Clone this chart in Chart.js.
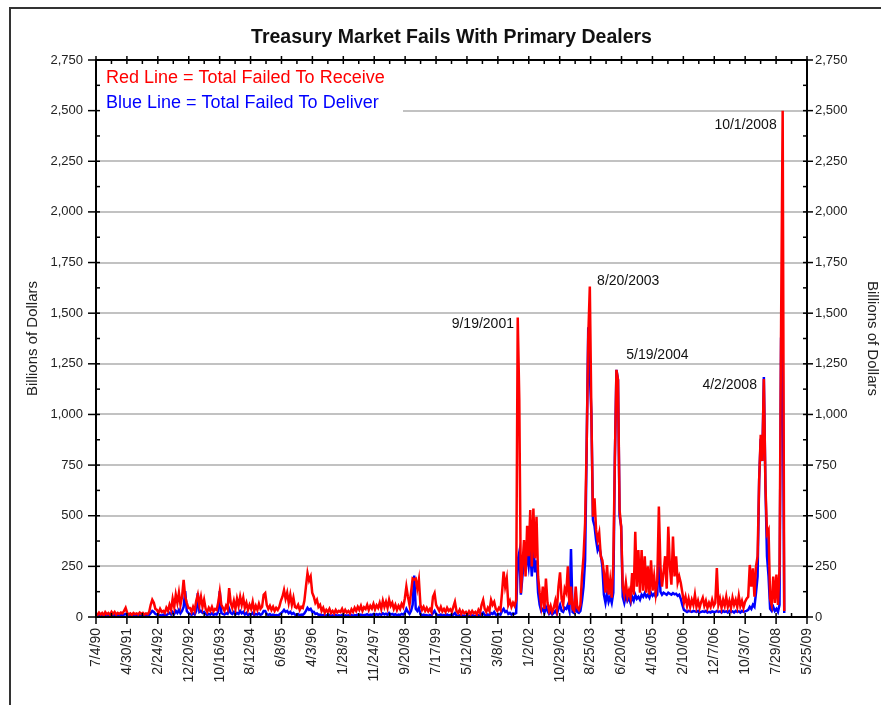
<!DOCTYPE html>
<html>
<head>
<meta charset="utf-8">
<title>Treasury Market Fails With Primary Dealers</title>
<script src="https://cdn.jsdelivr.net/npm/chart.js@4.4.1/dist/chart.umd.min.js"></script>
<style>
  html, body { margin: 0; padding: 0; background: #fff; }
</style>
</head>
<body>
<canvas id="fails" width="881" height="705"></canvas>
<script>
const FONT = '"Liberation Sans", Arial, sans-serif';

// x axis runs in days from 7/4/90, one label every 300 days
const tickLabels = ['7/4/90', '4/30/91', '2/24/92', '12/20/92', '10/16/93', '8/12/94', '6/8/95', '4/3/96',
  '1/28/97', '11/24/97', '9/20/98', '7/17/99', '5/12/00', '3/8/01', '1/2/02', '10/29/02', '8/25/03',
  '6/20/04', '4/16/05', '2/10/06', '12/7/06', '10/3/07', '7/29/08', '5/25/09'];

// two readings a month, starting July 1990 (one row per year)
const seriesStart = 1990;
const firstSlot = 12;
const slotsPerYear = 24;

// billions of dollars
const failedToReceive = [
  18, 10, 22, 12, 20, 8, 24, 14, 20, 10, 25, 15,
  25, 12, 20, 15, 22, 18, 30, 45, 20, 12, 18, 10, 20, 14, 18, 12, 22, 15, 20, 12, 18, 14, 25, 60,
  85, 70, 40, 35, 20, 40, 25, 30, 20, 45, 30, 60, 35, 90, 50, 110, 70, 120, 60, 100, 183, 100, 70, 45,
  45, 25, 50, 30, 80, 110, 60, 100, 50, 85, 40, 25, 45, 30, 50, 28, 40, 35, 70, 125, 60, 45, 30, 55,
  40, 143, 70, 45, 80, 40, 90, 55, 100, 60, 95, 45, 70, 35, 60, 40, 75, 30, 55, 35, 65, 40, 50, 110,
  118, 60, 40, 55, 35, 50, 30, 45, 35, 50, 80, 100, 133, 90, 120, 70, 110, 60, 95, 50, 45, 60, 35, 50,
  45, 80, 150, 217, 180, 200, 120, 100, 70, 85, 50, 60, 30, 45, 20, 35, 25, 40, 20, 30, 18, 35, 22, 30,
  25, 40, 20, 35, 22, 30, 18, 38, 25, 45, 30, 50, 35, 55, 30, 48, 40, 60, 35, 55, 42, 65, 38, 58,
  45, 70, 40, 80, 50, 75, 45, 85, 55, 70, 40, 60, 35, 55, 40, 65, 50, 90, 150, 100, 60, 120, 190, 185,
  190, 140, 185, 60, 35, 50, 30, 45, 28, 40, 25, 100, 118, 60, 45, 30, 50, 28, 40, 25, 45, 30, 38, 25,
  50, 75, 30, 20, 35, 15, 30, 18, 25, 12, 28, 15, 30, 18, 25, 12, 35, 20, 60, 84, 40, 25, 45, 30,
  84, 60, 75, 40, 30, 45, 35, 120, 224, 150, 190, 60, 80, 50, 70, 55, 85, 1479, 1072, 118, 250, 380, 200, 450,
  300, 528, 250, 536, 290, 495, 200, 120, 60, 150, 40, 190, 70, 30, 55, 25, 45, 80, 35, 150, 220, 90, 60, 140,
  120, 250, 60, 150, 40, 30, 150, 45, 35, 60, 200, 300, 465, 850, 1380, 1632, 1000, 495, 586, 430, 380, 415, 300, 280,
  220, 120, 257, 110, 180, 95, 260, 785, 1220, 1171, 528, 446, 150, 110, 170, 100, 130, 95, 217, 110, 421, 150, 330, 120,
  330, 130, 300, 120, 250, 110, 280, 130, 200, 115, 180, 545, 250, 150, 220, 300, 140, 446, 250, 160, 397, 200, 300, 170,
  200, 168, 120, 70, 100, 55, 90, 50, 85, 60, 110, 50, 80, 45, 75, 95, 55, 80, 45, 70, 50, 85, 55, 70,
  242, 60, 90, 45, 85, 55, 100, 50, 80, 45, 95, 60, 85, 50, 105, 55, 80, 45, 75, 90, 100, 257, 150, 240,
  100, 250, 300, 675, 900, 770, 1175, 650, 412, 430, 90, 60, 200, 70, 210, 60, 240, 1450, 2500, 30
];

const failedToDeliver = [
  8, 5, 10, 6, 9, 5, 10, 7, 8, 5, 10, 6,
  10, 6, 9, 7, 10, 8, 12, 15, 9, 6, 8, 5, 9, 6, 8, 5, 10, 7, 9, 6, 8, 6, 10, 20,
  30, 25, 15, 12, 8, 10, 7, 12, 10, 9, 15, 20, 12, 25, 15, 30, 20, 35, 18, 30, 50, 128, 30, 20,
  15, 10, 18, 12, 30, 118, 25, 30, 20, 25, 15, 10, 15, 12, 18, 10, 15, 12, 25, 128, 20, 15, 12, 18,
  15, 40, 20, 15, 25, 12, 20, 15, 30, 18, 25, 12, 20, 10, 15, 12, 20, 10, 15, 12, 18, 10, 15, 30,
  30, 15, 10, 15, 8, 12, 8, 10, 8, 12, 18, 25, 35, 25, 30, 18, 25, 15, 20, 12, 10, 15, 8, 12,
  10, 18, 30, 45, 35, 40, 25, 26, 15, 18, 10, 12, 8, 10, 6, 8, 6, 10, 5, 8, 5, 10, 6, 8,
  6, 10, 5, 8, 6, 8, 5, 10, 6, 10, 8, 12, 8, 12, 8, 10, 10, 14, 8, 12, 10, 15, 10, 14,
  10, 15, 10, 18, 12, 16, 10, 20, 12, 15, 10, 14, 8, 12, 10, 15, 12, 20, 40, 25, 15, 30, 60, 205,
  40, 30, 45, 15, 8, 12, 8, 10, 6, 10, 6, 20, 30, 15, 10, 8, 12, 6, 10, 6, 12, 8, 10, 6,
  12, 20, 8, 5, 8, 4, 7, 5, 6, 3, 7, 4, 8, 5, 6, 3, 9, 5, 15, 22, 10, 6, 12, 8,
  20, 15, 25, 12, 10, 15, 12, 30, 40, 25, 30, 15, 20, 12, 18, 15, 20, 280, 320, 110, 200, 280, 240, 310,
  250, 330, 200, 375, 220, 280, 120, 60, 30, 40, 20, 50, 30, 15, 25, 12, 20, 30, 15, 40, 60, 30, 25, 45,
  40, 60, 30, 335, 25, 20, 50, 25, 20, 30, 80, 150, 280, 840, 1430, 1200, 1006, 480, 450, 380, 330, 350, 306, 250,
  110, 70, 118, 75, 100, 70, 120, 785, 1220, 1171, 500, 446, 100, 70, 110, 80, 95, 70, 100, 80, 110, 90, 100, 85,
  110, 100, 118, 100, 110, 95, 120, 105, 115, 100, 110, 365, 125, 110, 120, 115, 110, 120, 115, 110, 118, 112, 115, 105,
  110, 90, 60, 35, 30, 25, 30, 28, 25, 30, 28, 25, 30, 22, 25, 28, 25, 30, 22, 25, 22, 28, 25, 25,
  30, 25, 28, 22, 30, 25, 28, 22, 30, 25, 28, 22, 30, 25, 28, 22, 30, 25, 28, 30, 35, 50, 40, 60,
  50, 120, 200, 675, 880, 770, 1185, 650, 300, 200, 40, 30, 50, 30, 40, 25, 60, 1380, 1340, 20
];

// dated notes on the big spikes
const peakLabels = ['9/19/2001', '8/20/2003', '5/19/2004', '4/2/2008', '10/1/2008'];
const peakDates = ['2001-09-19', '2003-08-20', '2004-05-19', '2008-04-02', '2008-10-01'];
const peakValues = [1479, 1632, 1220, 1175, 2500];

const origin = Date.UTC(1990, 6, 4);

function dayOf(i) {
  const slot = firstSlot + i;
  const year = seriesStart + Math.floor(slot / slotsPerYear);
  const s = slot % slotsPerYear;
  return (Date.UTC(year, 0, 1) - origin) / 864e5 + s * 365.25 / slotsPerYear;
}

const toPoints = arr => arr.map((v, i) => ({ x: dayOf(i), y: v }));

function line(ctx, x1, y1, x2, y2) {
  ctx.beginPath();
  ctx.moveTo(x1, y1);
  ctx.lineTo(x2, y2);
  ctx.stroke();
}

// page frame, legend box, boxed axes with crossing ticks, spike notes
const chrome = {
  id: 'chrome',
  beforeDraw(chart) {
    const ctx = chart.ctx;
    ctx.save();
    ctx.fillStyle = '#fff';
    ctx.fillRect(0, 0, chart.width, chart.height);
    ctx.strokeStyle = '#333';
    ctx.lineWidth = 2;
    ctx.beginPath();
    ctx.moveTo(10, chart.height);
    ctx.lineTo(10, 8);
    ctx.lineTo(chart.width, 8);
    ctx.stroke();
    ctx.restore();
  },
  beforeDatasetsDraw(chart) {
    const ctx = chart.ctx;
    const { left, top } = chart.chartArea;
    ctx.save();
    ctx.fillStyle = '#fff';
    ctx.fillRect(left + 1, top + 1, 402 - left, 62);
    ctx.font = '18px ' + FONT;
    ctx.textBaseline = 'middle';
    ctx.fillStyle = '#ff0000';
    ctx.fillText('Red Line = Total Failed To Receive', left + 10, top + 18);
    ctx.fillStyle = '#0000ff';
    ctx.fillText('Blue Line = Total Failed To Deliver', left + 10, top + 43);
    ctx.restore();
  },
  afterDatasetsDraw(chart) {
    const ctx = chart.ctx;
    const { left, right, top, bottom } = chart.chartArea;
    const xs = chart.scales.x, ys = chart.scales.y;
    ctx.save();
    ctx.strokeStyle = '#000';
    ctx.lineWidth = 2;
    ctx.strokeRect(left, top, right - left, bottom - top);

    ctx.lineWidth = 1.5;
    const xt = xs.ticks;
    xt.forEach((t, i) => {
      const px = xs.getPixelForValue(t.value);
      line(ctx, px, bottom - 4, px, bottom + 7);
      line(ctx, px, top - 4, px, top + 4);
      if (i < xt.length - 1) {
        const mx = xs.getPixelForValue((t.value + xt[i + 1].value) / 2);
        line(ctx, mx, bottom - 4, mx, bottom);
        line(ctx, mx, top, mx, top + 4);
      }
    });
    const yt = ys.ticks;
    yt.forEach((t, i) => {
      const py = ys.getPixelForValue(t.value);
      line(ctx, left - 8, py, left + 4, py);
      line(ctx, right - 4, py, right + 6, py);
      if (i < yt.length - 1) {
        const my = ys.getPixelForValue((t.value + yt[i + 1].value) / 2);
        line(ctx, left, my, left + 4, my);
        line(ctx, right - 4, my, right, my);
      }
    });

    // text placement next to each spike: [dx, dy, align]
    const place = [[-4, 7, 'right'], [7, -5, 'left'], [8, -15, 'left'], [-7, 6, 'right'], [-6, 15, 'right']];
    ctx.font = '14px ' + FONT;
    ctx.fillStyle = '#111';
    ctx.textBaseline = 'middle';
    peakLabels.forEach((label, i) => {
      const px = xs.getPixelForValue((Date.parse(peakDates[i]) - origin) / 864e5);
      const py = ys.getPixelForValue(peakValues[i]);
      ctx.textAlign = place[i][2];
      ctx.fillText(label, px + place[i][0], py + place[i][1]);
    });
    ctx.restore();
  }
};

const tickFont = { family: FONT, size: 13 };

new Chart(document.getElementById('fails'), {
  type: 'line',
  data: {
    datasets: [
      {
        label: 'Total Failed To Deliver',
        data: toPoints(failedToDeliver),
        borderColor: '#0000ff',
        borderWidth: 2.5,
        order: 2
      },
      {
        label: 'Total Failed To Receive',
        data: toPoints(failedToReceive),
        borderColor: '#ff0000',
        borderWidth: 2.5,
        order: 1
      }
    ]
  },
  options: {
    responsive: false,
    animation: false,
    events: [],
    layout: { padding: 0 },
    elements: {
      point: { radius: 0 },
      line: { tension: 0, borderJoinStyle: 'miter' }
    },
    plugins: {
      legend: { display: false },
      tooltip: { enabled: false },
      title: {
        display: true,
        text: 'Treasury Market Fails With Primary Dealers',
        fullSize: false,
        color: '#111',
        font: { family: FONT, size: 19.5, weight: 'bold' },
        padding: { top: 26, bottom: 10.6 }
      }
    },
    scales: {
      x: {
        type: 'linear',
        min: 0,
        max: 6900,
        afterFit: s => { s.height = 88; },
        grid: { display: false },
        border: { display: false },
        ticks: {
          stepSize: 300,
          autoSkip: false,
          maxRotation: 90,
          minRotation: 90,
          padding: 3,
          color: '#222',
          font: { family: FONT, size: 14 },
          callback: (v, i) => tickLabels[i]
        }
      },
      y: {
        position: 'left',
        min: 0,
        max: 2750,
        afterFit: s => { s.width = 96; },
        grid: { color: '#c2c2c2', lineWidth: 2, drawTicks: false },
        border: { display: false },
        ticks: {
          stepSize: 250,
          padding: 13,
          color: '#222',
          font: tickFont,
          callback: v => v.toLocaleString('en-US')
        },
        title: {
          display: true,
          text: 'Billions of Dollars',
          color: '#222',
          font: { family: FONT, size: 15 },
          padding: { top: 24, bottom: 0 }
        }
      },
      y2: {
        position: 'right',
        min: 0,
        max: 2750,
        afterFit: s => { s.width = 74; },
        grid: { drawOnChartArea: false, drawTicks: false },
        border: { display: false },
        ticks: {
          stepSize: 250,
          padding: 8,
          color: '#222',
          font: tickFont,
          callback: v => v.toLocaleString('en-US')
        },
        title: {
          display: true,
          text: 'Billions of Dollars',
          color: '#222',
          font: { family: FONT, size: 15 },
          padding: { top: 0, bottom: 0 }
        }
      }
    }
  },
  plugins: [chrome]
});
</script>
</body>
</html>
